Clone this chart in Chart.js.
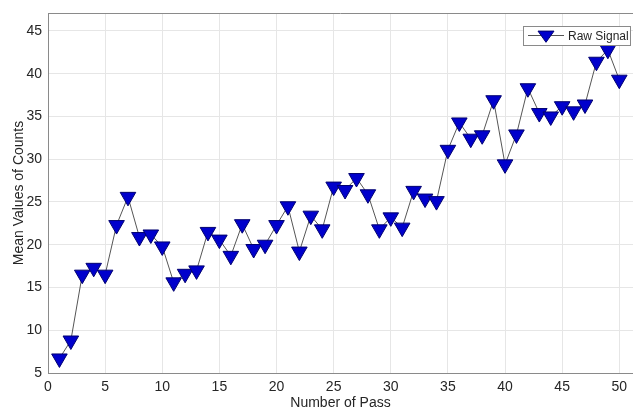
<!DOCTYPE html>
<html>
<head>
<meta charset="utf-8">
<script src="https://cdn.jsdelivr.net/npm/chart.js@4"></script>
<style>
  html, body { margin: 0; padding: 0; background: #fff; overflow: hidden; }
  #wrap { width: 633px; height: 412px; }
</style>
</head>
<body>
<div id="wrap"><canvas id="chartContainer"></canvas></div>
<script>
// pass numbers and the mean counts
var passNumbers = [1,2,3,4,5,6,7,8,9,10,11,12,13,14,15,16,17,18,19,20,
                   21,22,23,24,25,26,27,28,29,30,31,32,33,34,35,36,37,38,39,40,
                   41,42,43,44,45,46,47,48,49,50]
var rawSignal = [6.7,8.8,16.5,17.3,16.5,22.3,25.6,20.9,21.2,19.8,
                 15.6,16.6,17.0,21.5,20.6,18.7,22.4,19.5,20.0,22.3,
                 24.5,19.2,23.4,21.8,26.8,26.4,27.8,25.9,21.8,23.2,
                 22.0,26.3,25.4,25.1,31.1,34.3,32.4,32.8,36.9,29.4,
                 32.9,38.3,35.4,35.0,36.2,35.6,36.4,41.4,42.8,39.3]
var xTicks = [0,5,10,15,20,25,30,35,40,45,50]
var yTicks = [5,10,15,20,25,30,35,40,45]

var points = []
for (var i = 0; i < passNumbers.length; i++) {
  points.push({x: passNumbers[i], y: rawSignal[i]})
}

var markerFill = '#0000cc'
var markerEdge = '#000070'

// top frame line + matlab style legend box
var frameAndLegend = {
  id: 'frameAndLegend',
  afterDraw: function(chart) {
    var ctx = chart.ctx
    var area = chart.chartArea
    ctx.save()
    ctx.strokeStyle = '#8a8a8a'
    ctx.lineWidth = 1
    ctx.beginPath()
    ctx.moveTo(area.left, area.top + 0.5)
    ctx.lineTo(area.right, area.top + 0.5)
    ctx.stroke()

    var bx = 523, by = 26, bw = 107, bh = 19
    ctx.fillStyle = '#fff'
    ctx.fillRect(bx, by, bw, bh)
    ctx.strokeStyle = '#8a8a8a'
    ctx.strokeRect(bx + 0.5, by + 0.5, bw, bh)

    var cy = by + bh / 2
    ctx.strokeStyle = '#555'
    ctx.beginPath()
    ctx.moveTo(bx + 5, cy)
    ctx.lineTo(bx + 41, cy)
    ctx.stroke()

    var mx = bx + 23, r = 8
    ctx.fillStyle = markerFill
    ctx.strokeStyle = markerEdge
    ctx.beginPath()
    ctx.moveTo(mx - r, cy - r * 0.55)
    ctx.lineTo(mx + r, cy - r * 0.55)
    ctx.lineTo(mx, cy + r * 0.85)
    ctx.closePath()
    ctx.fill()
    ctx.stroke()

    ctx.fillStyle = '#262626'
    ctx.font = '12px "Liberation Sans", Arial, sans-serif'
    ctx.textBaseline = 'middle'
    ctx.fillText(chart.data.datasets[0].label, bx + 45, cy + 1)
    ctx.restore()
  }
}

var chart = new Chart(document.getElementById('chartContainer'), {
  type: 'line',
  data: {
    datasets: [{
      label: 'Raw Signal',
      data: points,
      borderColor: '#555555',
      borderWidth: 1,
      pointStyle: 'triangle',
      rotation: 180,
      pointRadius: 9,
      pointHoverRadius: 9,
      pointBackgroundColor: markerFill,
      pointBorderColor: markerEdge,
      pointBorderWidth: 1,
      tension: 0,
      fill: false
    }]
  },
  options: {
    responsive: true,
    maintainAspectRatio: false,
    animation: false,
    layout: { autoPadding: false, padding: { top: 13, right: 0, left: 0, bottom: 0 } },
    plugins: {
      legend: { display: false },
      tooltip: { enabled: false }
    },
    scales: {
      x: {
        type: 'linear',
        min: 0,
        max: 51.2,
        afterBuildTicks: function(scale) {
          scale.ticks = xTicks.map(function(v) { return {value: v} })
        },
        afterFit: function(scale) {
          scale.height = 39
          scale.paddingLeft = 0
          scale.paddingRight = 0
        },
        grid: { color: '#e6e6e6', drawTicks: false },
        border: { color: '#8a8a8a', width: 1 },
        ticks: {
          padding: 6,
          color: '#262626',
          font: { family: '"Liberation Sans", Arial, sans-serif', size: 14 }
        },
        title: {
          display: true,
          text: 'Number of Pass',
          color: '#262626',
          padding: { top: 0, bottom: 0 },
          font: { family: '"Liberation Sans", Arial, sans-serif', size: 14 }
        }
      },
      y: {
        min: 5,
        max: 47.1,
        afterBuildTicks: function(scale) {
          scale.ticks = yTicks.map(function(v) { return {value: v} })
        },
        afterFit: function(scale) {
          scale.width = 48
          scale.paddingTop = 0
          scale.paddingBottom = 0
        },
        grid: { color: '#e6e6e6', drawTicks: false },
        border: { color: '#8a8a8a', width: 1 },
        ticks: {
          padding: 6,
          color: '#262626',
          font: { family: '"Liberation Sans", Arial, sans-serif', size: 14 }
        },
        title: {
          display: true,
          text: 'Mean Values of Counts',
          color: '#262626',
          padding: { top: 11, bottom: 0 },
          font: { family: '"Liberation Sans", Arial, sans-serif', size: 14 }
        }
      }
    }
  },
  plugins: [frameAndLegend]
})
</script>
</body>
</html>
